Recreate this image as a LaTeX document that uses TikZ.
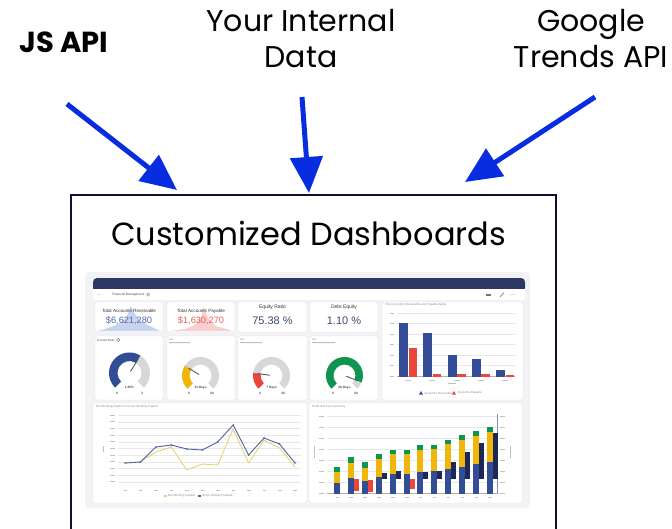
\documentclass[tikz,border=0pt]{standalone}
\usepackage{fontspec}
\setmainfont{Poppins}
\newfontfamily\dashfont{Liberation Sans}
\usetikzlibrary{arrows.meta}
\definecolor{arrowblue}{RGB}{8,44,224}
\definecolor{framenavy}{RGB}{14,16,52}
\definecolor{hdrnavy}{RGB}{46,56,100}
\definecolor{dbg}{RGB}{243,243,245}
\definecolor{pnlline}{RGB}{226,227,232}
\definecolor{gblue}{RGB}{50,76,150}
\definecolor{gnavy}{RGB}{30,40,88}
\definecolor{gyellow}{RGB}{240,182,10}
\definecolor{ggreen}{RGB}{14,150,80}
\definecolor{gred}{RGB}{234,70,60}
\definecolor{ggray}{RGB}{215,215,218}
\definecolor{txtgray}{RGB}{140,140,148}
\definecolor{gridgray}{RGB}{232,232,236}
\definecolor{kpislate}{RGB}{60,76,110}
\definecolor{kpiblue}{RGB}{80,108,170}
\definecolor{kpired}{RGB}{232,96,90}
\definecolor{sparkblue}{RGB}{200,211,238}
\definecolor{sparkred}{RGB}{248,208,205}
\definecolor{lineyel}{RGB}{228,214,110}
\definecolor{lineblu}{RGB}{78,98,168}
\newcommand\mygauge[7]{%
  \begin{scope}[shift={(#1,#2)}, y=1pt]
    \fill[ggray] (225:#3) arc[start angle=225,end angle=-45,radius=#3] -- (-45:#4) arc[start angle=-45,end angle=225,radius=#4] -- cycle;
    \fill[#5] (225:#3) arc[start angle=225,end angle=#6,radius=#3] -- (#6:#4) arc[start angle=#6,end angle=225,radius=#4] -- cycle;
    \draw[black!65, line width=0.9pt, line cap=round] (#6:2) -- (#6:#7);
  \end{scope}}
\tikzset{
  lbl/.style={font=\fontsize{30}{36}\selectfont, align=center, inner sep=0},
  feed/.style={draw=arrowblue, line width=5pt, -{Triangle[length=36pt,width=32pt,fill=arrowblue]}},
  panel/.style={fill=white, draw=pnlline, line width=0.4pt, rounded corners=1.5pt},
  tinytxt/.style={font=\dashfont\fontsize{3}{3}\selectfont, text=txtgray, inner sep=0},
  infoi/.style={draw=black!60, line width=0.3pt, circle, inner sep=0.2pt, minimum size=3.4pt, font=\dashfont\fontsize{2.8}{2.8}\selectfont, text=black!70},
  gaugetxt/.style={font=\dashfont\bfseries\fontsize{3.2}{3.2}\selectfont, text=black!70, inner sep=0},
  kpititle/.style={font=\dashfont\fontsize{4.6}{5}\selectfont, text=black!80, inner sep=0, anchor=base},
  ph/.style={fill=txtgray!55, draw=none},
  grid/.style={draw=gridgray, line width=0.35pt},
}
\begin{document}
\begin{tikzpicture}[x=1pt,y=-1pt]
\useasboundingbox (0,0) rectangle (672,528);
\clip (0,0) rectangle (672,528);
\fill[white] (0,0) rectangle (672,528);

% ---- source labels ----
\node[inner sep=0, anchor=base, font=\bfseries\fontsize{29}{32}\selectfont] (js) at (64,52) {JS API};
\node[lbl, anchor=north] (internal) at (301,9) {Your Internal\\Data};
\node[lbl, anchor=north] (google) at (591,9) {Google\\Trends API};

% ---- frame ----
\draw[framenavy, line width=2pt] (71,560) -- (71,195) -- (556,195) -- (556,560);
\node[inner sep=0, anchor=base, font=\fontsize{32}{38}\selectfont] (title) at (308.5,245) {Customized Dashboards};

% ---- arrows ----
\coordinate (s1) at (67,104);
\coordinate (t1) at (177,190);
\coordinate (s2) at (302,97);
\coordinate (t2) at (309,193);
\coordinate (s3) at (595,97);
\coordinate (t3) at (465,182);
\draw[feed] (s1) -- (t1);
\draw[feed] (s2) -- (t2);
\draw[feed] (s3) -- (t3);

% ---- dashboard screenshot ----
\fill[dbg, rounded corners=4pt] (85,272) rectangle (530,508);
\fill[hdrnavy, rounded corners=4pt] (93,278) rectangle (525,292);
\fill[white] (93,289) rectangle (525,300);
\node[tinytxt, text=black!70, anchor=west, font=\dashfont\fontsize{4}{4}\selectfont] (back) at (97,294.5) {←};
\node[tinytxt, text=black!70, anchor=west, font=\dashfont\fontsize{3.2}{3.2}\selectfont] (fm) at (112,294.5) {Financial Management};
\node[infoi] (fmi) at ([xshift=3.5pt]fm.east) {i};
\fill[black!55] (486,293.5) rectangle (491,296);
\draw[black!55, line width=0.6pt] (500,297) -- (504,292.5);
\fill[black!55] (511,294.8) circle (0.4) (513,294.8) circle (0.4) (515,294.8) circle (0.4);

% KPI cards
\draw[panel] (95,302) rectangle (163,332);
\draw[panel] (167,302) rectangle (235,332);
\draw[panel] (238,302) rectangle (307,332);
\draw[panel] (310,302) rectangle (378,332);
\fill[sparkblue] (98,331) -- (108,328) -- (118,324) -- (126,318) -- (131,306) -- (135,314) -- (142,322) -- (152,327) -- (160,331) -- cycle;
\fill[sparkred] (170,331) -- (185,329) -- (195,325) -- (201,317) -- (204,307) -- (208,318) -- (216,326) -- (226,329) -- (233,331) -- cycle;
\node[kpititle] (k1t) at (129,312.5) {Total Accounts Receivable};
\node[inner sep=0, anchor=base, font=\dashfont\fontsize{9.2}{10}\selectfont, text=kpiblue] (k1v) at (129,323) {\$6,621,280};
\node[kpititle] (k2t) at (201,312.5) {Total Accounts Payable};
\node[inner sep=0, anchor=base, font=\dashfont\fontsize{9.2}{10}\selectfont, text=kpired] (k2v) at (201,323) {\$1,630,270};
\node[kpititle, font=\dashfont\fontsize{5}{5}\selectfont] (k3t) at (272.5,308.5) {Equity Ratio};
\node[inner sep=0, anchor=base, font=\dashfont\fontsize{11}{12}\selectfont, text=kpislate] (k3v) at (272.5,324) {75.38 \%};
\node[kpititle, font=\dashfont\fontsize{5}{5}\selectfont] (k4t) at (344,308.5) {Debt Equity};
\node[inner sep=0, anchor=base, font=\dashfont\fontsize{11}{12}\selectfont, text=kpislate] (k4v) at (344,324) {1.10 \%};

% gauge cards
\draw[panel] (95,336) rectangle (163,400);
\draw[panel] (167,336) rectangle (235,400);
\draw[panel] (238,336) rectangle (307,400);
\draw[panel] (310,336) rectangle (378,400);
\node[tinytxt, text=black!70, anchor=west] (cr) at (97,340) {Current Ratio};
\node[infoi] (cri) at ([xshift=3pt]cr.east) {i};
\fill[ph] (169,338.5) rectangle (173,339.5) (169,342) rectangle (190,343);
\fill[ph] (240,338.5) rectangle (244,339.5) (240,342) rectangle (262,343);
\fill[ph] (312,338.5) rectangle (316,339.5) (312,342) rectangle (335,343);
\mygauge{129.5}{373}{20.5}{12}{gblue}{58}{16}
\mygauge{200.5}{375.5}{18.5}{11}{gyellow}{148}{14}
\mygauge{271.5}{375.5}{18.5}{11}{gred}{172}{14}
\mygauge{344.5}{375.5}{18.5}{11}{ggreen}{-22}{14}
\node[gaugetxt] (g1) at (129.5,387) {1.85\%};
\node[gaugetxt] (g1a) at (117,393) {0};
\node[gaugetxt] (g1b) at (142,393) {3};
\node[gaugetxt] (g2) at (200.5,388) {13 Days};
\node[gaugetxt] (g2a) at (189,393) {0};
\node[gaugetxt] (g2b) at (212,393) {30};
\node[gaugetxt] (g3) at (271.5,388) {7 Days};
\node[gaugetxt] (g3a) at (260,393) {0};
\node[gaugetxt] (g3b) at (283,393) {30};
\node[gaugetxt] (g4) at (344.5,388) {28 Days};
\node[gaugetxt] (g4a) at (333,393) {0};
\node[gaugetxt] (g4b) at (356,393) {30};

% AR/AP aging bar chart
\draw[panel] (382,302) rectangle (523,400);
\node[tinytxt, anchor=west] (agt) at (385,305) {Total Accounts Receivable and Payable Aging};
\foreach \yy in {313,323.5,334,344.5,355,365.5} \draw[grid] (397,\yy) -- (515,\yy);
\draw[black!30, line width=0.4pt] (397,376.5) -- (515,376.5);
\foreach \yy in {313,323.5,334,344.5,355,365.5,376.5} \fill[ph] (390,\yy-0.4) rectangle (394,\yy+0.4);
\foreach \i/\bt/\rt in {0/323/348, 1/333/374, 2/355/374, 3/359/374, 4/370/375}{
  \fill[gblue] (399+24.25*\i,\bt) rectangle (408+24.25*\i,376.5);
  \fill[gred] (408.5+24.25*\i,\rt) rectangle (417+24.25*\i,376.5);
  \fill[ph] (405+24.25*\i,379.5) rectangle (411+24.25*\i,380.3);
}
\fill[ph] (448,383) rectangle (456,383.8);
\fill[gblue] (419,394.5) -- (421,391) -- (423,394.5) -- cycle;
\node[tinytxt, anchor=west] (lgar) at (424.5,393) {Accounts Receivable};
\fill[gred] (452,394.5) -- (454,391) -- (456,394.5) -- cycle;
\node[tinytxt, anchor=west] (lgap) at (457.5,393) {Accounts Payable};

% Net vs gross working capital line chart
\draw[panel] (93,403) rectangle (307,503);
\node[tinytxt, anchor=west] (wct) at (96,406.5) {Net Working Capital vs Gross Working Capital};
\foreach \k in {0,...,10} \draw[grid] (118,415+6.67*\k) -- (301,415+6.67*\k);
\foreach \k in {0,...,10} \fill[ph] (110,415+6.67*\k-0.4) rectangle (115,415+6.67*\k+0.4);
\fill[ph] (103,446) rectangle (104,452);
\foreach \i in {0,...,11} \fill[ph] (123.5+15.45*\i,489.5) rectangle (127+15.45*\i,490.3);
\draw[lineyel, line width=0.9pt, line join=round] plot coordinates {(125,463) (140.45,462) (155.9,452) (171.35,447) (186.8,470) (202.25,464) (217.7,465) (233.15,429) (248.6,463) (264.05,440) (279.5,448) (295,467)};
\draw[lineblu, line width=0.9pt, line join=round] plot coordinates {(125,463) (140.45,462) (155.9,447) (171.35,445) (186.8,449) (202.25,450) (217.7,442) (233.15,425) (248.6,455) (264.05,438) (279.5,444) (295,463)};
\foreach \px/\py in {125/463,140.45/462,155.9/447,171.35/445,186.8/449,202.25/450,217.7/442,233.15/425,248.6/455,264.05/438,279.5/444,295/463}
  \fill[lineblu] (\px,\py) circle (0.9);
\fill[lineyel] (164,495) rectangle (167,497);
\node[tinytxt, anchor=west] (lgn) at (168,496) {Net Working Capital};
\fill[lineblu] (198,495) rectangle (201,497);
\node[tinytxt, anchor=west] (lgg) at (202,496) {Gross Working Capital};

% Profit and loss stacked bars
\draw[panel] (309,403) rectangle (522,503);
\node[tinytxt, anchor=west] (plt) at (312,406.5) {Profit and Loss summary};
\foreach \yy in {416,427,438,449,460,471,482} \draw[grid] (327,\yy) -- (497,\yy);
\draw[black!30, line width=0.4pt] (327,493.5) -- (497,493.5);
\draw[lineblu!70, line width=0.4pt] (497,414) -- (497,494);
\foreach \yy in {416,427,438,449,460,471,482,493} {\fill[ph] (319,\yy-0.4) rectangle (324,\yy+0.4); \fill[ph] (500,\yy-0.4) rectangle (505,\yy+0.4);}
\fill[ph] (314,446) rectangle (315,458);
\fill[ph] (510,446) rectangle (511,458);
\foreach \i/\b/\yl/\g in {0/483/472/467, 1/478/463/457, 2/481/468/462, 3/477/459/454, 4/474/454/450, 5/474/454/450, 6/472/450/445, 7/471/449/445, 8/469/444/440, 9/467/440/435, 10/464/436/431, 11/462/432/427}{
  \fill[gblue] (334+13.9*\i,\b) rectangle (340+13.9*\i,493.5);
  \fill[gyellow] (334+13.9*\i,\yl) rectangle (340+13.9*\i,\b);
  \fill[ggreen] (334+13.9*\i,\g) rectangle (340+13.9*\i,\yl);
  \fill[ph] (335.5+13.9*\i,497) rectangle (339+13.9*\i,497.8);
}
\foreach \i/\t/\bb in {1/479/491, 2/480/492, 5/479/489}
  \fill[gred] (340+13.9*\i,\t) rectangle (345+13.9*\i,\bb);
\foreach \i/\t in {3/473, 4/471, 6/472, 7/471, 8/462, 9/452, 10/443, 11/433}
  \fill[gnavy] (340+13.9*\i,\t) rectangle (345+13.9*\i,479);
\end{tikzpicture}
\end{document}
